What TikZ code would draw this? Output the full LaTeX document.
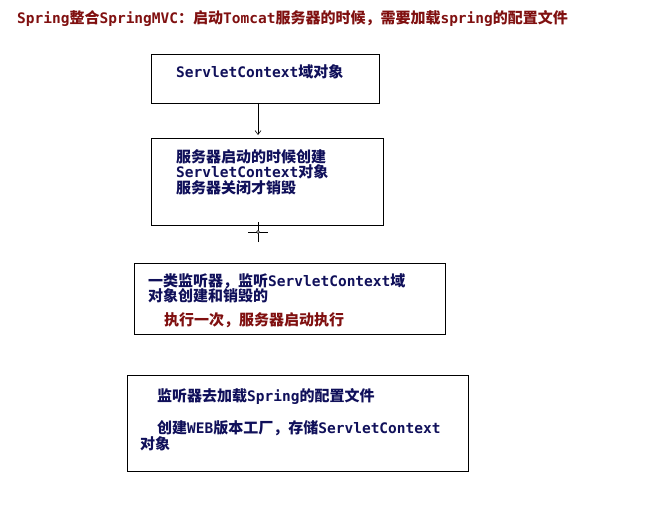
\documentclass[tikz,border=0pt]{standalone}
\usepackage{fontspec}
\usetikzlibrary{arrows.meta}
\setmainfont{Noto Sans CJK SC}
\newfontfamily\monof{DejaVu Sans Mono}
\definecolor{navy}{HTML}{10105A}
\definecolor{dred}{HTML}{801010}
\newcommand{\m}[1]{{\monof\bfseries\fontsize{14.5}{16}\selectfont #1}}
\begin{document}
\begin{tikzpicture}[x=1pt,y=-1pt,
  box/.style={draw=black,line width=0.8pt},
  txt/.style={anchor=west,inner sep=0pt,font=\bfseries\fontsize{15}{16}\selectfont,text=navy},
  red/.style={txt,text=dred}]
\useasboundingbox[fill=white] (0,0) rectangle (655,516);
\node[red] (title) at (17,18) {\m{Spring}整合\m{SpringMVC}：启动\m{Tomcat}服务器的时候，需要加载\m{spring}的配置文件};
\draw[box] (151,54) rectangle (379,103);
\coordinate (b1) at (258,103);
\node[txt] (t1) at (176,72) {\m{ServletContext}域对象};
\draw[box] (151,138) rectangle (383,225);
\coordinate (b2) at (258,135);
\draw[-{Straight Barb[length=4pt,width=6pt]},line width=0.6pt] (b1) -- (b2);
\node[txt] (t2a) at (176,157) {服务器启动的时候创建};
\node[txt] (t2b) at (176,172) {\m{ServletContext}对象};
\node[txt] (t2c) at (176,188) {服务器关闭才销毁};
\coordinate (cur) at (258,232);
\draw[line width=0.7pt] ([xshift=-10pt]cur) -- ([xshift=10pt]cur) ([yshift=-10pt]cur) -- ([yshift=10pt]cur);
\draw[line width=0.6pt,fill=white] (cur) circle (1.5pt);
\draw[box] (134,263) rectangle (445,334);
\node[txt] (t3a) at (148,281) {一类监听器，监听\m{ServletContext}域};
\node[txt] (t3b) at (148,296) {对象创建和销毁的};
\node[red] (t3c) at (164,320) {执行一次，服务器启动执行};
\draw[box] (127,375) rectangle (468,471);
\node[txt] (t4a) at (157,396) {监听器去加载\m{Spring}的配置文件};
\node[txt] (t4b) at (157,428) {创建\m{WEB}版本工厂，存储\m{ServletContext}};
\node[txt] (t4c) at (140,444) {对象};
\end{tikzpicture}
\end{document}
